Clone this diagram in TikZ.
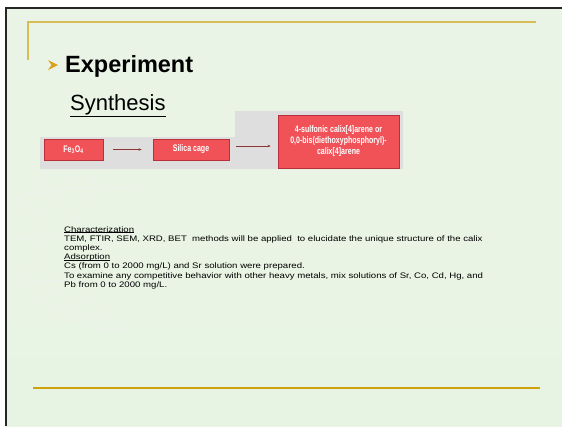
\documentclass[tikz,border=0pt]{standalone}
\usepackage{fontspec}
\setmainfont{Liberation Sans}
\newfontfamily\condfont{Liberation Sans}[FakeStretch=0.74]
\newfontfamily\bodyfont{Liberation Sans}[FakeStretch=1.2]
\usetikzlibrary{arrows.meta}
\definecolor{bgtop}{HTML}{EAF4E6}
\definecolor{bgmid}{HTML}{F4F8F2}
\definecolor{bgbot}{HTML}{E8F4E3}
\definecolor{goldA}{HTML}{D8BC55}
\definecolor{goldB}{HTML}{CFA20A}
\definecolor{goldC}{HTML}{D9A21B}
\definecolor{redfill}{HTML}{F05258}
\definecolor{redline}{HTML}{B8303A}
\definecolor{arrred}{HTML}{8E3434}
\definecolor{graybg}{HTML}{DEDEDE}
\newcommand{\lowul}[1]{{\setbox0\hbox{#1}\rlap{\rule[-0.9pt]{\wd0}{0.45pt}}\box0}}
\tikzset{
  redbox/.style={draw=redline, line width=0.8pt, fill=redfill, text=white, inner sep=0pt,
    font=\condfont\bfseries\fontsize{9.5}{11}\selectfont, align=center},
  flowarrow/.style={draw=arrred, line width=0.7pt, -{Stealth[length=3pt,width=2.5pt]}},
  globe/.style={draw=gray!12, line width=0.6pt}
}
\begin{document}
\begin{tikzpicture}[x=1pt,y=-1pt]
\useasboundingbox (0,0) rectangle (562,426);
\fill[white] (0,0) rectangle (562,426);
\shade[top color=bgtop, middle color=bgmid, bottom color=bgbot] (6,8) rectangle (562,426);
% faint globe decoration
\begin{scope}
\clip (6,150) rectangle (140,330);
\draw[globe] (150,240) ellipse (140 and 95);
\draw[globe] (150,240) ellipse (110 and 95);
\draw[globe] (150,240) ellipse (75 and 95);
\draw[globe] (10,200) .. controls (60,185) and (110,185) .. (150,190);
\draw[globe] (10,240) .. controls (60,232) and (110,232) .. (150,235);
\draw[globe] (10,280) .. controls (60,280) and (110,282) .. (150,285);
\end{scope}
% frame
\draw[line width=2pt, black!85] (6,426) -- (6,8) -- (562,8);
% gold rules
\draw[goldA, line width=1.2pt] (28,60) -- (28,22) -- (536,22);
\draw[goldB, line width=1.6pt] (33,388) -- (540,388);
% bullet
\fill[goldC] (48,60) -- (58,65) -- (48,70) -- (51.5,65) -- cycle;
% titles
\node[anchor=base west, inner sep=0pt, font=\bfseries\fontsize{23.5}{27}\selectfont] (exp) at (65,72) {Experiment};
\node[anchor=base west, inner sep=0pt, font=\fontsize{22}{26}\selectfont] (syn) at (70,110) {\underline{Synthesis}};
% gray band
\fill[graybg] (40,137) -- (235,137) -- (235,111) -- (403,111) -- (403,169) -- (40,169) -- cycle;
% boxes
\node[redbox, minimum width=59pt, minimum height=21pt] (fe) at (73.5,149.5) {Fe\textsubscript{3}O\textsubscript{4}};
\node[redbox, minimum width=76pt, minimum height=21pt] (si) at (191,149.5) {Silica cage};
\node[redbox, minimum width=121pt, minimum height=53pt] (cx) at (338.5,141.5) {4-sulfonic calix[4]arene or\\0,0-bis(diethoxyphosphoryl)-\\calix[4]arene};
\draw[flowarrow] ([xshift=10pt]fe.east) -- ([xshift=-11pt]si.west);
\draw[flowarrow] ([xshift=7pt,yshift=3.5pt]si.east) -- ([xshift=-7pt,yshift=-4.5pt]cx.west);
% body text
\node[anchor=north west, inner sep=0pt, align=left, font=\bodyfont\fontsize{8}{9.2}\selectfont] (body) at (64,226) {\lowul{Characterization}\\
TEM, FTIR, SEM, XRD, BET\ \ methods will be applied\ \ to elucidate the unique structure of the calix\\
complex.\\
\lowul{Adsorption}\\
Cs (from 0 to 2000 mg/L) and Sr solution were prepared.\\
To examine any competitive behavior with other heavy metals, mix solutions of Sr, Co, Cd, Hg, and\\
Pb from 0 to 2000 mg/L.};
\end{tikzpicture}
\end{document}
